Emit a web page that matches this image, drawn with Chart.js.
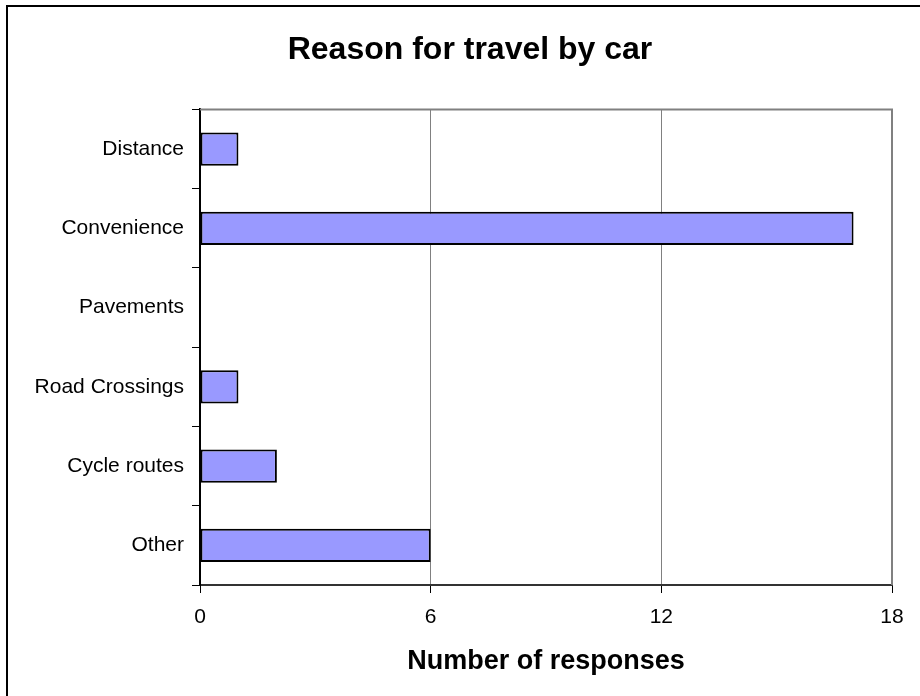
<!DOCTYPE html>
<html>
<head>
    <title>Reason for travel by car</title>
    <script src="https://cdn.jsdelivr.net/npm/chart.js"></script>
    <style>
        body { margin: 0; background: #fff; font-family: "Liberation Sans", Arial, sans-serif; }
        #wrap { position: relative; width: 920px; height: 696px; overflow: hidden; }
        #frame {
            position: absolute; left: 6px; top: 5px; width: 1000px; height: 1000px;
            border-left: 2px solid #000; border-top: 2px solid #000;
        }
        canvas { position: absolute; left: 0; top: 0; }
    </style>
</head>
<body>
    <div id="wrap">
        <div id="frame"></div>
        <canvas id="chart" width="920" height="696"></canvas>
    </div>
    <script>
        const categories = ['Distance', 'Convenience', 'Pavements', 'Road Crossings', 'Cycle routes', 'Other'];
        const responses = [1, 17, 0, 1, 2, 6];
        const xTicks = [0, 6, 12, 18];

        // gray border along the top and right of the plot area
        const plotFrame = {
            id: 'plotFrame',
            beforeDatasetsDraw(chart) {
                const a = chart.chartArea;
                const c = chart.ctx;
                c.save();
                c.strokeStyle = '#808080';
                c.lineWidth = 2;
                c.beginPath();
                c.moveTo(a.left, a.top);
                c.lineTo(a.right, a.top);
                c.lineTo(a.right, a.bottom);
                c.stroke();
                c.restore();
            }
        };

        const ctx = document.getElementById('chart').getContext('2d');
        new Chart(ctx, {
            type: 'bar',
            data: {
                labels: categories,
                datasets: [{
                    label: 'Number of responses',
                    data: responses,
                    backgroundColor: '#9999FF',
                    borderColor: '#000',
                    borderWidth: 2,
                    borderSkipped: false,
                    categoryPercentage: 1,
                    barPercentage: 0.42
                }]
            },
            options: {
                indexAxis: 'y',
                responsive: false,
                animation: false,
                // padding 20 left + empty right axis keeps the title centred where the original has it
                layout: { padding: { left: 20, right: 0, top: 0, bottom: 0 } },
                plugins: {
                    legend: { display: false },
                    tooltip: { enabled: false },
                    title: {
                        display: true,
                        text: 'Reason for travel by car',
                        color: '#000',
                        font: { family: '"Liberation Sans", Arial', size: 32, weight: 'bold' },
                        padding: { top: 31, bottom: 40 }
                    }
                },
                scales: {
                    x: {
                        min: 0,
                        max: 18,
                        afterBuildTicks(scale) { scale.ticks = xTicks.map(v => ({ value: v })); },
                        afterFit(scale) { scale.height = 111; },
                        ticks: {
                            color: '#000',
                            padding: 12,
                            font: { family: '"Liberation Sans", Arial', size: 21 }
                        },
                        grid: {
                            color: c => c.tick && c.tick.value === 0 ? 'rgba(0,0,0,0)' : '#808080',
                            tickColor: '#000',
                            tickLength: 8,
                            lineWidth: 1
                        },
                        border: { color: '#333', width: 2 },
                        title: {
                            display: true,
                            text: 'Number of responses',
                            color: '#000',
                            font: { family: '"Liberation Sans", Arial', size: 27, weight: 'bold' },
                            padding: { top: 0, bottom: 18 }
                        }
                    },
                    y: {
                        afterFit(scale) { scale.width = 180; },
                        ticks: {
                            color: '#000',
                            padding: 8,
                            font: { family: '"Liberation Sans", Arial', size: 21 }
                        },
                        grid: {
                            offset: true,
                            drawOnChartArea: false,
                            color: '#000',
                            tickLength: 8
                        },
                        border: { color: '#000', width: 2 }
                    },
                    spacer: {
                        type: 'linear',
                        position: 'right',
                        afterFit(scale) { scale.width = 28; },
                        ticks: { display: false },
                        grid: { display: false },
                        border: { display: false }
                    }
                }
            },
            plugins: [plotFrame]
        });
    </script>
</body>
</html>
